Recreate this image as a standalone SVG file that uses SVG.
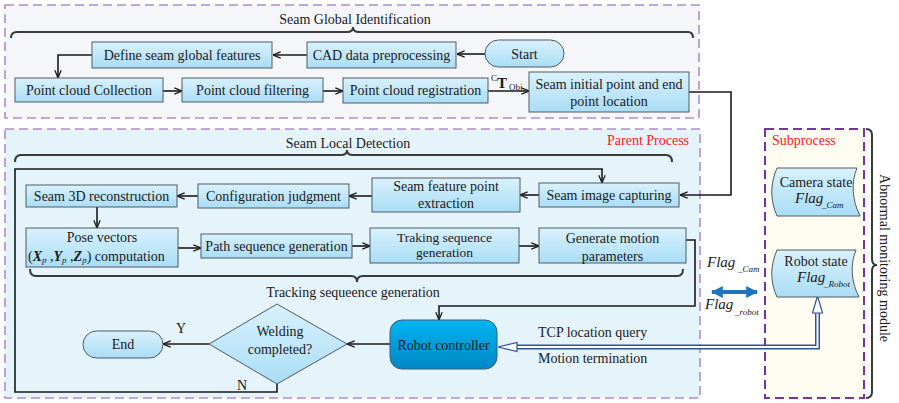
<svg xmlns="http://www.w3.org/2000/svg" width="899" height="403" viewBox="0 0 899 403">
  <defs>
    <linearGradient id="boxFill" x1="0" y1="0" x2="0" y2="1">
      <stop offset="0" stop-color="#d9f1fc"/>
      <stop offset="1" stop-color="#a9ddf6"/>
    </linearGradient>
    <linearGradient id="ctrlFill" x1="0" y1="0" x2="0" y2="1">
      <stop offset="0" stop-color="#00b6f1"/>
      <stop offset="1" stop-color="#0086c6"/>
    </linearGradient>
    <marker id="arr" viewBox="0 0 10 10" refX="9.5" refY="5" markerWidth="9" markerHeight="9" markerUnits="userSpaceOnUse" orient="auto">
      <path d="M1,1.5 L9.5,5 L1,8.5" fill="none" stroke="#1a1a1a" stroke-width="1.4"/>
    </marker>
    <marker id="blueHead" viewBox="0 0 10 10" refX="9" refY="5" markerWidth="12" markerHeight="12" markerUnits="userSpaceOnUse" orient="auto-start-reverse">
      <path d="M0,0 L10,5 L0,10 Z" fill="#1f74bd"/>
    </marker>
  </defs>
  <style>
    text { font-family: "Liberation Serif", "Times New Roman", serif; font-size: 14px; fill: #1a1a1a; }
    .c { text-anchor: middle; }
    .box { fill: url(#boxFill); stroke: #505a62; stroke-width: 1; }
    .zone { stroke: #b08cd0; stroke-width: 1.6; stroke-dasharray: 9 5; }
    .link { fill: none; stroke: #1a1a1a; stroke-width: 1.6; }
    .arrow { marker-end: url(#arr); }
    .brace { fill: none; stroke: #3a3a3a; stroke-width: 2; }
    .red { fill: #ff2020; }
    .flag { font-style: italic; font-size: 15px; }
    .sub { font-size: 9px; font-style: italic; }
    .small { font-size: 9px; }
    .bigT { font-size: 15px; font-weight: bold; }
    .tight { font-size: 13.5px; }
  </style>

  <!-- regions -->
  <rect class="zone" x="5" y="5" width="694" height="113" fill="#f5f6fa"/>
  <rect class="zone" x="5" y="129" width="695" height="269" fill="#e5f3fb"/>
  <rect x="765" y="129" width="99" height="269" fill="#fffdf1" stroke="#7434a6" stroke-width="2" stroke-dasharray="9 5"/>

  <!-- grouping braces and titles -->
  <g id="global-title">
    <path class="brace" d="M11,38 Q11,32 17,32 H347 Q353,32 353,27 Q353,32 359,32 H688 Q693,32 693,38"/>
    <text class="c" x="355" y="24">Seam Global Identification</text>
  </g>
  <g id="local-title">
    <path class="brace" d="M15,162 Q15,155 21,155 H341 Q347,155 347,150 Q347,155 353,155 H666 Q672,155 672,162"/>
    <text class="c" x="348" y="148">Seam Local Detection</text>
    <text class="red" x="607" y="145">Parent Process</text>
  </g>
  <g id="tracking-title">
    <path class="brace" d="M30,269 Q30,276 36,276 H351 Q357,276 357,282 Q357,276 363,276 H677 Q683,276 683,269"/>
    <text class="c" x="353" y="297">Tracking sequeence generation</text>
  </g>
  <g id="sub-title">
    <text class="red" x="772" y="145">Subprocess</text>
  </g>
  <g id="module-title">
    <path class="brace" d="M866,129 Q872,129 872,135 V259 Q872,265 877,265 Q872,265 872,271 V392 Q872,398 866,398"/>
    <text class="c" transform="translate(880,258) rotate(90)">Abnormal monitoring module</text>
  </g>

  <!-- connectors -->
  <g id="connectors">
    <path class="link arrow" d="M485,54 H457"/>
    <path class="link arrow" d="M307,55 H273"/>
    <path class="link arrow" d="M92,55 H58 V78"/>
    <path class="link arrow" d="M163,91 H182"/>
    <path class="link arrow" d="M323,91 H343"/>
    <path class="link arrow" d="M488,91 H529"/>
    <path class="link arrow" d="M689,92 H731 V195 H680"/>
    <path class="link arrow" d="M539,195 H520"/>
    <path class="link arrow" d="M372,196 H349"/>
    <path class="link arrow" d="M198,196 H177"/>
    <path class="link arrow" d="M97,207 V228"/>
    <path class="link arrow" d="M178,248 H201"/>
    <path class="link arrow" d="M352,246 H370"/>
    <path class="link arrow" d="M519,246 H539"/>
    <path class="link arrow" d="M686,240 H695 V306 H439 V320"/>
    <path class="link arrow" d="M390,344 H347"/>
    <path class="link arrow" d="M209,344 H163"/>
    <path class="link arrow" d="M277,384 V392 H15 V169 H602 V183"/>
    <!-- hollow double-line link between robot state and controller -->
    <path d="M516,347 H817.5 V312" fill="none" stroke="#2f5597" stroke-width="5"/>
    <path d="M516,347 H817.5 V312" fill="none" stroke="#ffffff" stroke-width="2"/>
    <polygon points="498,347 517,342.5 517,351.5" fill="#ffffff" stroke="#2f5597" stroke-width="1.2"/>
    <polygon points="817.5,296 812.5,313 822.5,313" fill="#ffffff" stroke="#2f5597" stroke-width="1.2"/>
    <!-- flag exchange -->
    <path d="M712,292 H757" stroke="#1f74bd" stroke-width="4" marker-start="url(#blueHead)" marker-end="url(#blueHead)"/>
    <text class="small" x="491" y="81">C</text>
    <text class="bigT" x="497" y="88">T</text>
    <text class="small" x="509" y="90">Obj</text>
    <text x="538" y="337">TCP location query</text>
    <text x="538" y="363">Motion termination</text>
    <text x="176" y="333">Y</text>
    <text x="237" y="390">N</text>
    <text class="flag" x="707" y="267">Flag</text>
    <text class="sub" x="738" y="272">_Cam</text>
    <text class="flag" x="705" y="309">Flag</text>
    <text class="sub" x="735" y="315">_robot</text>
  </g>

  <!-- nodes: global identification -->
  <g id="start">
    <rect class="box" x="485" y="40" width="79" height="27" rx="13.5"/>
    <text class="c" x="524.5" y="59">Start</text>
  </g>
  <g id="cad">
    <rect class="box" x="307" y="42" width="149" height="26"/>
    <text class="c" x="381.5" y="60">CAD data preprocessing</text>
  </g>
  <g id="define">
    <rect class="box" x="92" y="42" width="180" height="26"/>
    <text class="c" x="182" y="60">Define seam global features</text>
  </g>
  <g id="collection">
    <rect class="box" x="15" y="78" width="148" height="24"/>
    <text class="c" x="89" y="95">Point cloud Collection</text>
  </g>
  <g id="filtering">
    <rect class="box" x="182" y="78" width="141" height="24"/>
    <text class="c" x="252.5" y="95">Point cloud filtering</text>
  </g>
  <g id="registration">
    <rect class="box" x="343" y="78" width="145" height="25"/>
    <text class="c" x="415.5" y="95">Point cloud registration</text>
  </g>
  <g id="location">
    <rect class="box" x="529" y="72" width="160" height="40"/>
    <text class="c" x="609" y="89">Seam initial point and end</text>
    <text class="c" x="609" y="106">point location</text>
  </g>

  <!-- nodes: local detection -->
  <g id="capturing">
    <rect class="box" x="539" y="183" width="140" height="24"/>
    <text class="c" x="609" y="200">Seam image capturing</text>
  </g>
  <g id="feature">
    <rect class="box" x="372" y="178" width="148" height="34"/>
    <text class="c" x="446" y="191">Seam feature point</text>
    <text class="c" x="446" y="208">extraction</text>
  </g>
  <g id="config">
    <rect class="box" x="198" y="184" width="151" height="24"/>
    <text class="c" x="273.5" y="201">Configuration judgment</text>
  </g>
  <g id="recon">
    <rect class="box" x="26" y="185" width="151" height="22"/>
    <text class="c" x="101.5" y="201">Seam 3D reconstruction</text>
  </g>
  <g id="pose">
    <rect class="box" x="26" y="228" width="152" height="39"/>
    <text class="c" x="102" y="242">Pose vectors</text>
    <text x="28" y="261">(<tspan font-weight="bold" font-style="italic">X</tspan><tspan class="sub" dy="2">p</tspan><tspan dy="-2"> ,</tspan><tspan font-weight="bold" font-style="italic">Y</tspan><tspan class="sub" dy="2">p</tspan><tspan dy="-2"> ,</tspan><tspan font-weight="bold" font-style="italic">Z</tspan><tspan class="sub" dy="2">p</tspan><tspan dy="-2">)  computation</tspan></text>
  </g>
  <g id="path-seq">
    <rect class="box" x="201" y="234" width="151" height="24"/>
    <text class="c" x="276.5" y="251">Path sequence generation</text>
  </g>
  <g id="traking">
    <rect class="box" x="370" y="228" width="149" height="35"/>
    <text class="c tight" x="444.5" y="242">Traking sequence</text>
    <text class="c tight" x="444.5" y="257">generation</text>
  </g>
  <g id="motion">
    <rect class="box" x="539" y="228" width="147" height="35"/>
    <text class="c" x="612.5" y="243">Generate  motion</text>
    <text class="c" x="612.5" y="261">parameters</text>
  </g>
  <g id="controller">
    <rect x="390" y="320" width="107" height="49" rx="12" fill="url(#ctrlFill)" stroke="#3b5f78" stroke-width="1"/>
    <text class="c" x="443.5" y="350">Robot controller</text>
  </g>
  <g id="welding">
    <polygon class="box" points="277,304 347,344 277,384 209,344"/>
    <text class="c" x="280" y="336">Welding</text>
    <text class="c" x="280" y="354">completed?</text>
  </g>
  <g id="end">
    <rect class="box" x="83" y="331" width="80" height="27" rx="13.5"/>
    <text class="c" x="123" y="349">End</text>
  </g>

  <!-- nodes: subprocess -->
  <g id="camera-state">
    <path class="box" d="M777,168 H857 C851,182 852,200 860,216 H777 C770,200 770,184 777,168 Z"/>
    <text class="c" x="816" y="187">Camera state</text>
    <text class="flag" x="795" y="203">Flag</text>
    <text class="sub" x="822" y="208">_Cam</text>
  </g>
  <g id="robot-state">
    <path class="box" d="M777,250 H856 C850,264 851,282 859,297 H777 C770,282 770,266 777,250 Z"/>
    <text class="c" x="816" y="266">Robot state</text>
    <text class="flag" x="797" y="282">Flag</text>
    <text class="sub" x="824" y="287">_Robot</text>
  </g>
</svg>
